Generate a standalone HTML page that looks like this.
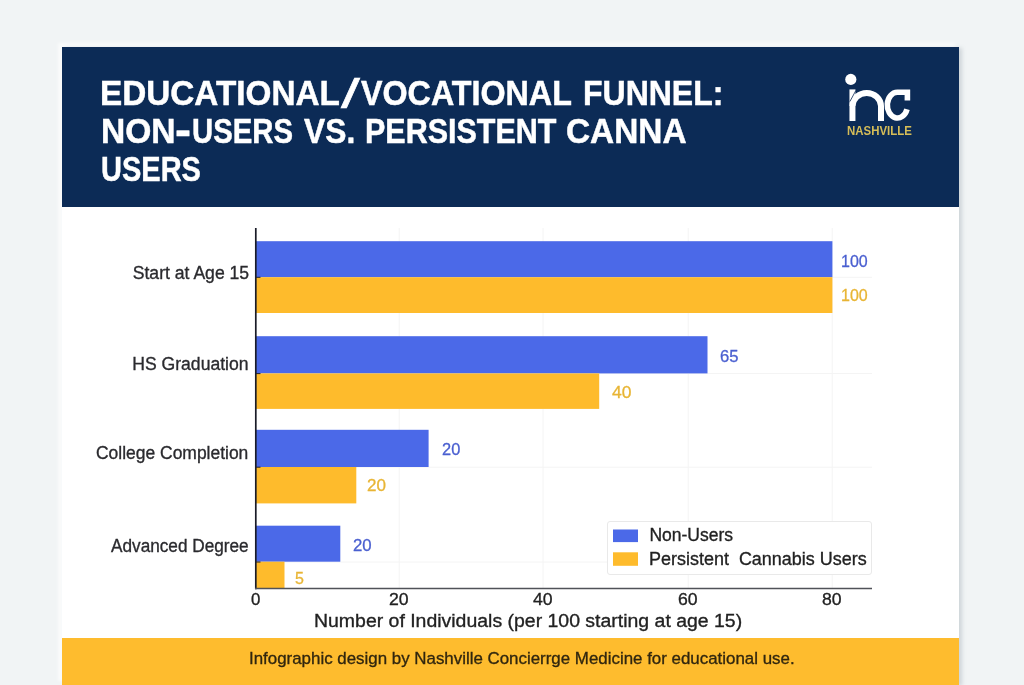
<!DOCTYPE html>
<html lang="en"><head><meta charset="utf-8"><title>Educational/Vocational Funnel</title>
<style>
html,body{margin:0;padding:0;overflow:hidden;}
html{width:1024px;height:685px;background:#f1f4f5;}
body{width:1024px;height:685px;overflow:hidden;background:#f1f4f5;position:relative;font-family:"Liberation Sans",Arial,sans-serif;}
.card{position:absolute;left:61.5px;top:47px;width:897.5px;height:638px;background:#fff;box-shadow:3px 1px 4px rgba(130,142,155,.30),-4px -4px 3px rgba(255,255,255,.65);}
.hdr{position:absolute;left:61.5px;top:47px;width:897.5px;height:160.4px;background:#0c2b56;}
.ftr{position:absolute;left:61.5px;top:637.7px;width:897.5px;height:47.3px;background:#febc2e;}
h1{margin:0;font-size:inherit;font-weight:400;}
.t{position:absolute;white-space:pre;line-height:1;transform-origin:0 0;}
.vl{-webkit-text-stroke:.3px currentColor;}
.tt{-webkit-text-stroke:.5px #fff;}
.md{-webkit-text-stroke:.32px currentColor;}
svg{position:absolute;left:0;top:0;}
</style></head><body>
<div class="card"></div>
<div class="hdr"></div>
<div class="ftr"></div>
<svg width="1024" height="685" viewBox="0 0 1024 685">
<g stroke="#f4f4f4" stroke-width="1">
<line x1="399.2" y1="228" x2="399.2" y2="588"/><line x1="543" y1="228" x2="543" y2="588"/><line x1="688.2" y1="228" x2="688.2" y2="588"/><line x1="832.2" y1="228" x2="832.2" y2="588"/>
<line x1="256" y1="277.3" x2="872" y2="277.3"/><line x1="256" y1="373.5" x2="872" y2="373.5"/><line x1="256" y1="467.2" x2="872" y2="467.2"/><line x1="256" y1="562" x2="872" y2="562"/>
</g>
<rect x="256.0" y="241.2" width="576.4" height="36.0" fill="#4b69e8"/>
<rect x="256.0" y="277.2" width="576.4" height="35.8" fill="#febb2c"/>
<rect x="256.0" y="336.2" width="451.5" height="37.2" fill="#4b69e8"/>
<rect x="256.0" y="373.4" width="343.2" height="35.5" fill="#febb2c"/>
<rect x="256.0" y="429.8" width="172.6" height="37.2" fill="#4b69e8"/>
<rect x="256.0" y="467.0" width="100.3" height="36.4" fill="#febb2c"/>
<rect x="256.0" y="525.7" width="84.3" height="36.0" fill="#4b69e8"/>
<rect x="256.0" y="561.7" width="28.5" height="26.3" fill="#febb2c"/>
<line x1="255.8" y1="228" x2="255.8" y2="589.2" stroke="#1a1c28" stroke-width="1.7"/>
<line x1="255" y1="588.5" x2="872" y2="588.5" stroke="#505258" stroke-width="1.6"/>
<g stroke="#1b1e30" stroke-width="1"><line x1="255" y1="277.3" x2="260.5" y2="277.3"/><line x1="255" y1="373.6" x2="260.5" y2="373.6"/><line x1="255" y1="467.2" x2="260.5" y2="467.2"/><line x1="255" y1="562" x2="260.5" y2="562"/></g>
<rect x="607.5" y="521.5" width="264" height="53" rx="2.5" fill="#fff" stroke="#e9e9e9" stroke-width="1"/>
<rect x="613" y="529.5" width="25" height="12.6" fill="#4b69e8"/>
<rect x="613" y="552.3" width="25" height="13.5" fill="#febb2c"/>
<!-- logo -->
<g id="logo" fill="none" stroke="#fff" stroke-width="6">
<circle cx="850.8" cy="79.4" r="5.6" fill="#fff" stroke="none"/>
<path d="M852.45 121 V89.4"/>
<path d="M852.45 106 A14.28 13.4 0 0 1 881 106 V121"/>
<path d="M849.9 101.5 L855.8 90.6" stroke="#0c2b56" stroke-width="0.8"/>
<path d="M907.4 100.5 V92.3 H897.3 A10.1 12.85 0 1 0 907.0 109.2" stroke-width="5.6"/>
</g>
</svg>
<h1>
<span class="t tt" id="t1a" style="left:99.95px;top:75px;font-size:35.3px;color:#fff;font-weight:700;transform:scaleX(0.9434);">EDUCATIONAL</span>
<span class="t tt" id="t1s" style="left:341.27px;top:74px;font-size:41px;color:#fff;transform:scaleX(1.6593);">/</span>
<span class="t tt" id="t1v" style="left:360.53px;top:75px;font-size:35.3px;color:#fff;font-weight:700;transform:scaleX(0.9138);">VOCATIONAL </span>
<span class="t tt" id="t1b" style="left:583.41px;top:75px;font-size:35.3px;color:#fff;font-weight:700;transform:scaleX(0.9062);">FUNNEL: </span>
<span class="t tt" id="t2a" style="left:100.57px;top:113px;font-size:35.3px;color:#fff;font-weight:700;transform:scaleX(0.9510);">NON</span>
<span class="t tt" id="t2h" style="left:174.65px;top:108px;font-size:44px;color:#fff;font-weight:700;transform:scaleX(1.0944);">-</span>
<span class="t tt" id="t2u" style="left:191.98px;top:113px;font-size:35.3px;color:#fff;font-weight:700;transform:scaleX(0.8315);">USERS </span>
<span class="t tt" id="t2b" style="left:303.74px;top:113px;font-size:35.3px;color:#fff;font-weight:700;transform:scaleX(0.9005);">VS. </span>
<span class="t tt" id="t2c" style="left:364.62px;top:113px;font-size:35.3px;color:#fff;font-weight:700;transform:scaleX(0.8639);">PERSISTENT </span>
<span class="t tt" id="t2d" style="left:566.28px;top:113px;font-size:35.3px;color:#fff;font-weight:700;transform:scaleX(0.9463);">CANNA </span>
<span class="t tt" id="t3" style="left:101.27px;top:151px;font-size:35.3px;color:#fff;font-weight:700;transform:scaleX(0.8216);">USERS</span>
</h1>
<span class="t" id="nash" style="left:846.93px;top:125px;font-size:12px;color:#d6bd58;font-weight:700;transform:scaleX(0.9529);">NASHVILLE</span>
<span class="t md" id="c1" style="left:132.75px;top:265px;font-size:17.6px;color:#2a2a2e;">Start at Age 15</span>
<span class="t md" id="c2" style="left:132.21px;top:356px;font-size:17.6px;color:#2a2a2e;">HS Graduation</span>
<span class="t md" id="c3" style="left:96.47px;top:445px;font-size:17.6px;color:#2a2a2e;transform:scaleX(0.9921);">College Completion</span>
<span class="t md" id="c4" style="left:111.27px;top:538px;font-size:17.6px;color:#2a2a2e;transform:scaleX(0.9772);">Advanced Degree</span>
<span class="t vl" id="v1" style="left:840.66px;top:253px;font-size:16.5px;color:#4a5fd0;transform:scaleX(0.9700);">100</span>
<span class="t vl" id="v2" style="left:840.66px;top:287px;font-size:16.5px;color:#e8b535;transform:scaleX(0.9700);">100</span>
<span class="t vl" id="v3" style="left:719.50px;top:348px;font-size:16.5px;color:#4a5fd0;transform:scaleX(1.0054);">65</span>
<span class="t vl" id="v4" style="left:611.50px;top:384px;font-size:16.5px;color:#e8b535;transform:scaleX(1.0600);">40</span>
<span class="t vl" id="v5" style="left:442.00px;top:441px;font-size:16.5px;color:#4a5fd0;transform:scaleX(0.9946);">20</span>
<span class="t vl" id="v6" style="left:367.30px;top:477px;font-size:16.5px;color:#e8b535;transform:scaleX(1.0326);">20</span>
<span class="t vl" id="v7" style="left:353.00px;top:537px;font-size:16.5px;color:#4a5fd0;transform:scaleX(1.0163);">20</span>
<span class="t vl" id="v8" style="left:295.19px;top:570px;font-size:16.5px;color:#e8b535;transform:scaleX(0.9700);">5</span>
<span class="t md" id="k0" style="left:251.30px;top:591px;font-size:17px;color:#222;transform:scaleX(0.9895);">0</span>
<span class="t md" id="k1" style="left:389.20px;top:591px;font-size:17px;color:#222;transform:scaleX(1.0370);">20</span>
<span class="t md" id="k2" style="left:533.20px;top:591px;font-size:17px;color:#222;transform:scaleX(1.0370);">40</span>
<span class="t md" id="k3" style="left:677.50px;top:591px;font-size:17px;color:#222;transform:scaleX(1.0370);">60</span>
<span class="t md" id="k4" style="left:822.20px;top:591px;font-size:17px;color:#222;transform:scaleX(1.0370);">80</span>
<span class="t md" id="xt" style="left:313.86px;top:612px;font-size:18px;color:#222;transform:scaleX(1.0806);">Number of Individuals (per 100 starting at age 15)</span>
<span class="t md" id="l1" style="left:649.40px;top:527px;font-size:17.5px;color:#222;">Non-Users</span>
<span class="t md" id="l2" style="left:649.36px;top:551px;font-size:17.5px;color:#222;transform:scaleX(1.0268);">Persistent  Cannabis Users</span>
<span class="t md" id="ft" style="left:249.32px;top:651px;font-size:16.8px;color:#30260f;transform:scaleX(1.0067);">Infographic design by Nashville Concierrge Medicine for educational use.</span>
</body></html>
